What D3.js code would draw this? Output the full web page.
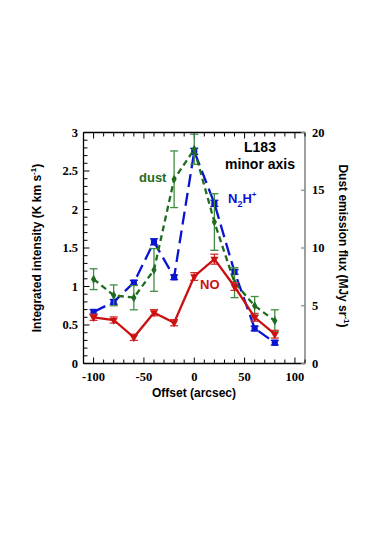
<!DOCTYPE html>
<html>
<head>
<meta charset="utf-8">
<script src="https://cdn.jsdelivr.net/npm/d3@7"></script>
<style>
  body { margin: 0; background: #fff; }
  svg text { font-family: "Liberation Sans", Arial, sans-serif; }
</style>
</head>
<body>
<svg id="chart" width="385" height="545"></svg>
<script>
// offsets along the minor axis (arcsec)
var offsets = [-100, -80, -60, -40, -20, 0, 20, 40, 60, 80];

// NO integrated intensity (K km/s), left axis
var noVals = [0.60, 0.565, 0.34, 0.66, 0.53, 1.13, 1.355, 1.0, 0.6, 0.38];
var noErr  = [0.04, 0.04, 0.04, 0.04, 0.04, 0.05, 0.065, 0.05, 0.05, 0.05];

// N2H+ integrated intensity (K km/s), left axis
var n2hVals = [0.67, 0.80, 1.05, 1.58, 1.12, 2.755, 2.08, 1.19, 0.455, 0.27];
var n2hErr  = [0.03, 0.03, 0.03, 0.04, 0.03, 0.04, 0.04, 0.03, 0.03, 0.03];

// dust emission flux (MJy/sr), right axis
var dustVals = [7.3, 5.9, 5.7, 8.1, 15.95, 18.55, 12.25, 7.0, 5.0, 3.7];
var dustErr  = [0.9, 0.9, 1.05, 1.85, 2.45, 1.3, 2.45, 1.3, 0.8, 0.95];

var xTicks = [-100, -50, 0, 50, 100];
var yLeftTicks = [0, 0.5, 1, 1.5, 2, 2.5, 3];
var yRightTicks = [0, 5, 10, 15, 20];

var svg = d3.select("svg#chart");
var pLeft = 83.5, pRight = 305, pTop = 132.5, pBottom = 363.5;

var x = d3.scaleLinear().domain([-110, 110]).range([pLeft, pRight]);
var yL = d3.scaleLinear().domain([0, 3]).range([pBottom, pTop]);
var yR = d3.scaleLinear().domain([0, 20]).range([pBottom, pTop]);

var tickFont = '"Liberation Serif", "Times New Roman", serif';

//frame lines
var frame = svg.append("g");
frame.append("line").attr("x1", pLeft).attr("x2", pRight).attr("y1", pTop).attr("y2", pTop)
  .attr("stroke", "#000").attr("stroke-width", 1.3);
frame.append("line").attr("x1", pLeft).attr("x2", pRight).attr("y1", pBottom).attr("y2", pBottom)
  .attr("stroke", "#000").attr("stroke-width", 1.3);
frame.append("line").attr("x1", pLeft).attr("x2", pLeft).attr("y1", pTop).attr("y2", pBottom)
  .attr("stroke", "#000").attr("stroke-width", 1.3);
frame.append("line").attr("x1", pRight).attr("x2", pRight).attr("y1", pTop).attr("y2", pBottom)
  .attr("stroke", "#888").attr("stroke-width", 1.6);

//minor + major ticks on bottom and top (inward)
d3.range(-110, 111, 10).forEach(function(v) {
  var len = (v % 50 === 0) ? 6 : 4;
  frame.append("line").attr("x1", x(v)).attr("x2", x(v)).attr("y1", pBottom).attr("y2", pBottom - len)
    .attr("stroke", "#000").attr("stroke-width", 1);
  frame.append("line").attr("x1", x(v)).attr("x2", x(v)).attr("y1", pTop).attr("y2", pTop + len)
    .attr("stroke", "#000").attr("stroke-width", 1);
});

//left ticks every 0.1
d3.range(0, 31).forEach(function(i) {
  var v = i / 10;
  var len = (i % 5 === 0) ? 6 : 4;
  frame.append("line").attr("x1", pLeft).attr("x2", pLeft + len).attr("y1", yL(v)).attr("y2", yL(v))
    .attr("stroke", "#000").attr("stroke-width", 1);
});

//right ticks
yRightTicks.forEach(function(v) {
  frame.append("line").attr("x1", pRight - 4).attr("x2", pRight).attr("y1", yR(v)).attr("y2", yR(v))
    .attr("stroke", "#888").attr("stroke-width", 1.2);
});

//tick labels
svg.append("g").selectAll("text").data(xTicks).enter().append("text")
  .attr("x", function(d) { return x(d); })
  .attr("y", 381)
  .attr("text-anchor", "middle")
  .style("font-family", tickFont).style("font-weight", "bold").style("font-size", "12.5px")
  .text(function(d) { return d; });

svg.append("g").selectAll("text").data(yLeftTicks).enter().append("text")
  .attr("x", 78)
  .attr("y", function(d) { return yL(d) + 4; })
  .attr("text-anchor", "end")
  .style("font-family", tickFont).style("font-weight", "bold").style("font-size", "12.5px")
  .text(function(d) { return d; });

svg.append("g").selectAll("text").data(yRightTicks).enter().append("text")
  .attr("x", 312)
  .attr("y", function(d) { return yR(d) + 4; })
  .attr("text-anchor", "start")
  .style("font-family", tickFont).style("font-weight", "bold").style("font-size", "12.5px")
  .text(function(d) { return d; });

//axis titles
svg.append("text").attr("x", 194).attr("y", 397).attr("text-anchor", "middle")
  .style("font-weight", "bold").style("font-size", "12px").text("Offset (arcsec)");

var lt = svg.append("text").attr("transform", "translate(41,248) rotate(-90)")
  .attr("text-anchor", "middle").style("font-weight", "bold").style("font-size", "12px");
lt.append("tspan").text("Integrated intensity (K km s");
lt.append("tspan").attr("dy", -5).style("font-size", "8px").text("-1");
lt.append("tspan").attr("dy", 5).text(")");

var rt = svg.append("text").attr("transform", "translate(339,246) rotate(90)")
  .attr("text-anchor", "middle").style("font-weight", "bold").style("font-size", "12px");
rt.append("tspan").text("Dust emission flux (MJy sr");
rt.append("tspan").attr("dy", -5).style("font-size", "8px").text("-1");
rt.append("tspan").attr("dy", 5).text(")");

//series helper
function drawSeries(vals, errs, yScale, color, dash, marker, size, errColor) {
  var pts = offsets.map(function(o, i) { return { x: o, y: vals[i], e: errs[i] }; });
  var g = svg.append("g");

  //error bars
  var eb = g.selectAll("g.err").data(pts).enter().append("g")
    .attr("stroke", errColor).attr("stroke-width", 1.3);
  eb.append("line")
    .attr("x1", function(d) { return x(d.x); }).attr("x2", function(d) { return x(d.x); })
    .attr("y1", function(d) { return yScale(d.y - d.e); }).attr("y2", function(d) { return yScale(d.y + d.e); });
  eb.append("line")
    .attr("x1", function(d) { return x(d.x) - 4; }).attr("x2", function(d) { return x(d.x) + 4; })
    .attr("y1", function(d) { return yScale(d.y - d.e); }).attr("y2", function(d) { return yScale(d.y - d.e); });
  eb.append("line")
    .attr("x1", function(d) { return x(d.x) - 4; }).attr("x2", function(d) { return x(d.x) + 4; })
    .attr("y1", function(d) { return yScale(d.y + d.e); }).attr("y2", function(d) { return yScale(d.y + d.e); });

  var line = d3.line().x(function(d) { return x(d.x); }).y(function(d) { return yScale(d.y); });
  g.append("path").datum(pts)
    .attr("d", line)
    .attr("fill", "none")
    .attr("stroke", color)
    .attr("stroke-width", 2.3)
    .attr("stroke-dasharray", dash);

  g.selectAll("path.mk").data(pts).enter().append("path")
    .attr("class", "mk")
    .attr("d", d3.symbol().type(marker).size(size))
    .attr("transform", function(d) {
      var r = marker === d3.symbolTriangle ? " rotate(180)" : "";
      return "translate(" + x(d.x) + "," + yScale(d.y) + ")" + r;
    })
    .attr("fill", color);
}

drawSeries(n2hVals, n2hErr, yL, "#0a14d0", "13,6", d3.symbolSquare, 38, "#0a14d0");
drawSeries(dustVals, dustErr, yR, "#1f6b1f", "6,4", d3.symbolDiamond, 24, "#438c43");
drawSeries(noVals, noErr, yL, "#cc1010", null, d3.symbolTriangle, 28, "#d23030");

//annotations
svg.append("text").attr("x", 139).attr("y", 182).attr("fill", "#1f6b1f")
  .style("font-weight", "bold").style("font-size", "13px").text("dust");
svg.append("text").attr("x", 260).attr("y", 152).attr("text-anchor", "middle")
  .style("font-weight", "bold").style("font-size", "14px").text("L183");
svg.append("text").attr("x", 260).attr("y", 169).attr("text-anchor", "middle")
  .style("font-weight", "bold").style("font-size", "14px").text("minor axis");

var nt = svg.append("text").attr("x", 228).attr("y", 203).attr("fill", "#0a14d0")
  .style("font-weight", "bold").style("font-size", "13px");
nt.append("tspan").text("N");
nt.append("tspan").attr("dy", 4).style("font-size", "9px").text("2");
nt.append("tspan").attr("dy", -4).text("H");
nt.append("tspan").attr("dy", -6).style("font-size", "8px").text("+");

svg.append("text").attr("x", 200).attr("y", 289).attr("fill", "#cc1010")
  .style("font-weight", "bold").style("font-size", "13px").text("NO");
</script>
</body>
</html>
